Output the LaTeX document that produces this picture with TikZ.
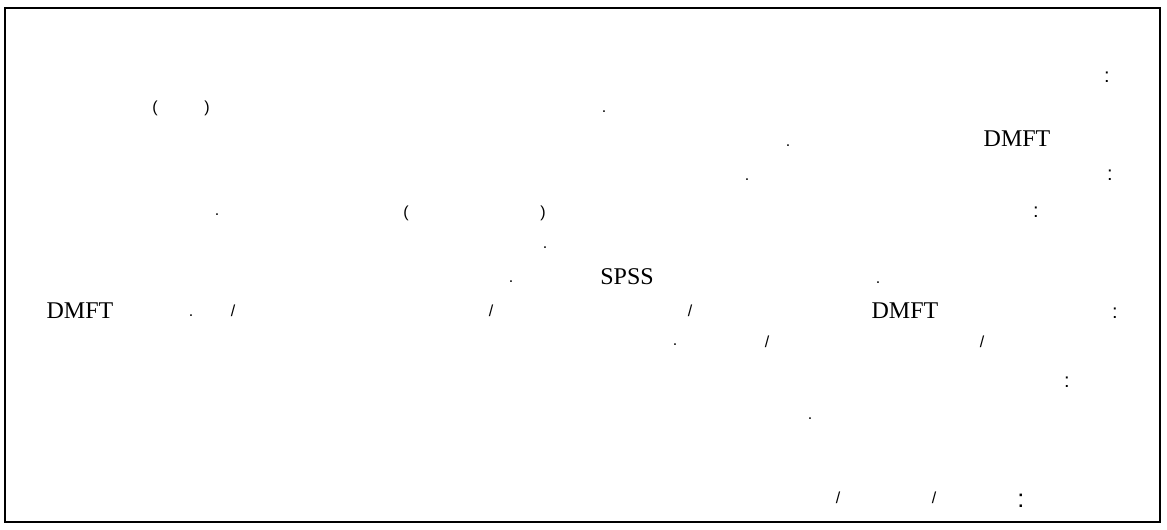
\documentclass[tikz,border=0pt]{standalone}
\usepackage{fontspec}
\setmainfont{Liberation Serif}
\newfontfamily\punctfont{Liberation Sans}
\begin{document}
\begin{tikzpicture}[x=0.75pt,y=-0.75pt,
  word/.style={inner sep=0pt,font=\fontsize{18}{20}\selectfont},
  pun/.style={inner sep=0pt,font=\punctfont\fontsize{12}{14}\selectfont},
  colon/.style={inner sep=0pt,font=\punctfont\fontsize{15}{17}\selectfont},
  bigpun/.style={inner sep=0pt,font=\punctfont\fontsize{19}{21}\selectfont}]
\useasboundingbox (0,0) rectangle (1167,529);
\draw[line width=1.6pt] (5,8) rectangle (1160,522);
% row 1
\node[colon] (c1) at (1107,77) {:};
% row 2
\node[pun] (p1) at (155,108) {(};
\node[pun] (p2) at (207,108) {)};
\node[pun] (d1) at (604,112) {.};
% row 3
\node[pun] (d2) at (788,146) {.};
\node[word] (w1) at (1017,139) {DMFT};
% row 4
\node[pun] (d3) at (747,180) {.};
\node[colon] (c2) at (1110,175) {:};
% row 5
\node[pun] (d4) at (217,215) {.};
\node[pun] (p3) at (406,213) {(};
\node[pun] (p4) at (543,213) {)};
\node[colon] (c3) at (1036,212) {:};
% row 6
\node[pun] (d5) at (545,248) {.};
% row 7
\node[pun] (d6) at (511,282) {.};
\node[word] (w2) at (627,277) {SPSS};
\node[pun] (d7) at (878,283) {.};
% row 8
\node[word] (w3) at (80,311) {DMFT};
\node[pun] (d8) at (191,316) {.};
\node[pun] (s1) at (233,311) {/};
\node[pun] (s2) at (491,311) {/};
\node[pun] (s3) at (690,311) {/};
\node[word] (w4) at (905,311) {DMFT};
\node[colon] (c4) at (1115,313) {:};
% row 9
\node[pun] (d9) at (675,345) {.};
\node[pun] (s4) at (767,342) {/};
\node[pun] (s5) at (982,342) {/};
% row 10
\node[colon] (c5) at (1067,382) {:};
% row 11
\node[pun] (d10) at (810,419) {.};
% row 12
\node[pun] (s6) at (838,498) {/};
\node[pun] (s7) at (934,498) {/};
\node[bigpun] (c6) at (1021,501) {:};
\end{tikzpicture}
\end{document}
